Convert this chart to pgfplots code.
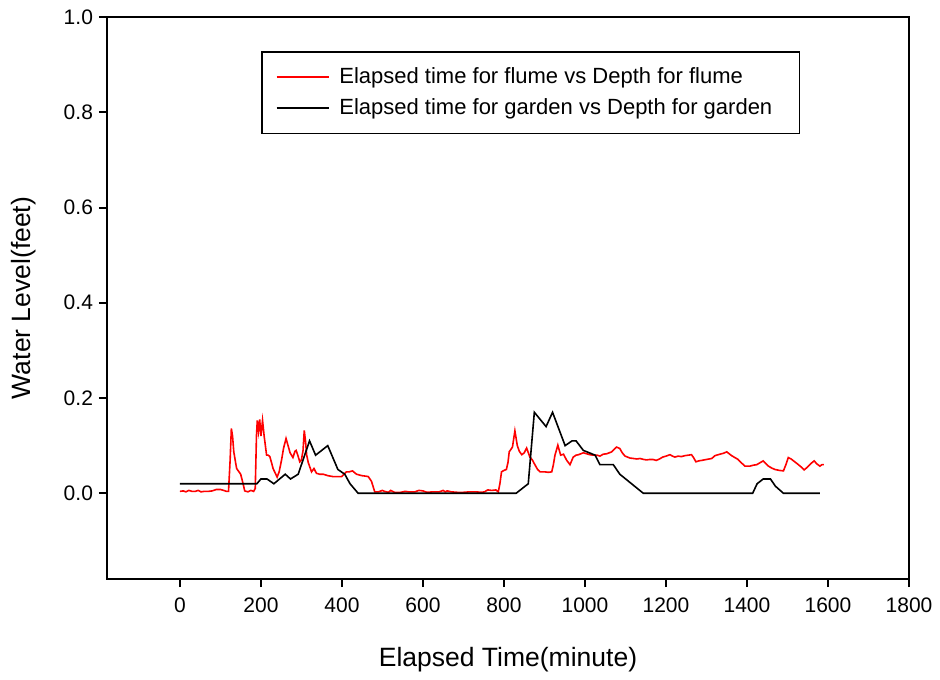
\documentclass[border=0pt]{standalone}
\usepackage{fontspec}
\setmainfont{Liberation Sans}
\usepackage{pgfplots}
\pgfplotsset{compat=1.18}
\begin{document}
\begin{tikzpicture}
\begin{axis}[
  at={(0,0)}, anchor=south west,
  scale only axis,
  width=401pt, height=281pt,
  xmin=-180, xmax=1800, ymin=-0.18, ymax=1.0,
  xtick={0,200,...,1800},
  ytick={0,0.2,0.4,0.6,0.8,1.0},
  tick align=outside, xtick pos=bottom, ytick pos=left,
  major tick length=4pt,
  axis line style={line width=1pt},
  every tick/.style={black, line width=1pt},
  tick label style={font=\fontsize{10.5}{12}\selectfont},
  xticklabel style={yshift=-2pt},
  /pgf/number format/assume math mode=true,
  /pgf/number format/1000 sep={},
  yticklabel style={/pgf/number format/fixed, /pgf/number format/fixed zerofill, /pgf/number format/precision=1, xshift=0.5pt},
  xlabel={Elapsed Time(minute)},
  ylabel={Water Level(feet)},
  label style={font=\fontsize{13.25}{15}\selectfont},
  xlabel style={at={(axis description cs:0.5,-0.1440)}, anchor=center},
  ylabel style={at={(axis description cs:-0.1035,0.5)}, anchor=center},
  legend style={at={(axis description cs:0.192,0.9395)}, anchor=north west,
    draw=black, line width=0.8pt, fill=white, inner xsep=7pt, inner ysep=6pt,
    font=\fontsize{11}{13}\selectfont, row sep=2pt,
    /tikz/every odd column/.append style={column sep=3pt}},
  legend cell align=left,
  legend image code/.code={\draw[#1, line width=0.8pt] (0pt,0pt) -- (26pt,0pt);},
]
\addplot[red, line width=0.8pt, no marks] coordinates {
(0,0.004)(8,0.005)(15,0.003)(22,0.006)(30,0.004)(38,0.004)(45,0.006)(52,0.003)
(60,0.004)(70,0.004)(80,0.005)(90,0.008)(100,0.008)(108,0.006)(115,0.004)(120,0.004)
(124,0.07)(127,0.136)(130,0.12)(133,0.087)(140,0.052)(150,0.04)(156,0.02)(160,0.005)
(168,0.003)(175,0.006)(182,0.004)(186,0.01)(189,0.12)(191,0.153)(194,0.13)(197,0.155)
(200,0.12)(204,0.153)(208,0.12)(214,0.08)(218,0.08)(222,0.077)(226,0.065)(230,0.052)
(240,0.034)(245,0.045)(251,0.07)(256,0.095)(262,0.115)(267,0.1)(272,0.085)(279,0.075)
(284,0.088)(287,0.09)(291,0.08)(296,0.066)(300,0.07)(304,0.09)(307,0.132)(310,0.11)
(313,0.08)(317,0.064)(325,0.045)(331,0.052)(337,0.042)(345,0.04)(354,0.04)(365,0.037)
(378,0.035)(390,0.035)(399,0.035)(405,0.04)(411,0.045)(418,0.045)(426,0.047)(436,0.04)
(449,0.037)(458,0.036)(465,0.035)(473,0.025)(481,0.003)(490,0.003)(500,0.006)(505,0.004)
(515,0.002)(520,0.006)(530,0.002)(545,0.002)(556,0.004)(565,0.003)(580,0.003)(590,0.006)
(600,0.005)(610,0.002)(625,0.003)(640,0.003)(650,0.006)(655,0.003)(660,0.005)(670,0.003)
(685,0.002)(700,0.002)(715,0.003)(730,0.003)(745,0.002)(752,0.003)(760,0.007)(770,0.006)
(780,0.007)(786,0.003)(790,0.02)(794,0.045)(800,0.048)(806,0.05)(810,0.065)(813,0.087)
(821,0.097)(827,0.131)(833,0.1)(838,0.088)(844,0.081)(850,0.085)(856,0.095)(864,0.076)
(870,0.07)(877,0.059)(883,0.05)(889,0.045)(900,0.045)(910,0.044)(918,0.045)(922,0.06)
(926,0.08)(933,0.101)(940,0.08)(947,0.082)(955,0.069)(963,0.06)(971,0.076)(978,0.08)
(984,0.081)(990,0.083)(996,0.085)(1004,0.083)(1012,0.081)(1020,0.08)(1030,0.08)(1037,0.078)
(1045,0.082)(1054,0.083)(1066,0.087)(1072,0.092)(1078,0.097)(1086,0.094)(1092,0.085)(1099,0.078)
(1105,0.076)(1111,0.074)(1120,0.073)(1128,0.072)(1136,0.073)(1145,0.071)(1152,0.07)(1160,0.071)
(1168,0.071)(1176,0.069)(1184,0.072)(1192,0.076)(1200,0.078)(1210,0.081)(1216,0.078)(1222,0.076)
(1230,0.078)(1238,0.077)(1247,0.079)(1255,0.08)(1263,0.081)(1268,0.075)(1274,0.066)(1281,0.068)
(1288,0.069)(1300,0.071)(1313,0.073)(1321,0.079)(1333,0.082)(1342,0.084)(1350,0.087)(1356,0.083)
(1362,0.079)(1370,0.075)(1378,0.071)(1386,0.064)(1395,0.057)(1407,0.057)(1416,0.059)(1424,0.06)
(1432,0.064)(1440,0.068)(1447,0.062)(1453,0.057)(1461,0.053)(1469,0.05)(1480,0.048)(1490,0.047)
(1496,0.06)(1502,0.075)(1509,0.072)(1515,0.068)(1521,0.064)(1527,0.06)(1534,0.055)(1541,0.049)
(1548,0.054)(1555,0.06)(1560,0.064)(1566,0.068)(1572,0.062)(1580,0.057)(1585,0.06)(1590,0.06)
};
\addlegendentry{\makebox[221pt][l]{Elapsed time for flume vs Depth for flume}}
\addplot[black, line width=0.8pt, no marks] coordinates {
(0,0.02)(190,0.02)(200,0.03)(215,0.03)(232,0.02)(260,0.04)(273,0.03)(292,0.04)
(320,0.11)(335,0.08)(365,0.10)(390,0.05)(407,0.04)(420,0.02)(440,0)(830,0)
(860,0.02)(875,0.17)(904,0.14)(920,0.17)(951,0.10)(968,0.11)(978,0.11)(996,0.09)
(1025,0.08)(1037,0.06)(1070,0.06)(1086,0.04)(1144,0)(1414,0)(1425,0.02)(1440,0.03)
(1458,0.03)(1470,0.015)(1490,0)(1580,0)
};
\addlegendentry{\makebox[221pt][l]{Elapsed time for garden vs Depth for garden}}
\end{axis}
\pgfresetboundingbox
\path[use as bounding box] (-53.5pt,-50pt) rectangle (416.5pt,289.5pt);
\end{tikzpicture}
\end{document}
